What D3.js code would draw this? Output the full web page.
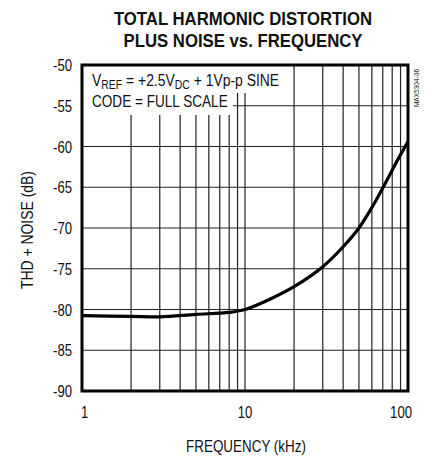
<!DOCTYPE html>
<html>
<head>
<meta charset="utf-8">
<script src="https://cdn.jsdelivr.net/npm/d3@7"></script>
<style>
  body { margin: 0; background: #fff; }
  text { font-family: "Liberation Sans", Arial, sans-serif; fill: #111; }
</style>
</head>
<body>
<div id="chart"></div>
<script>
// frequency (kHz) and THD+N (dB)
var freq = [1, 2, 3, 5, 8, 10, 14, 20, 30, 40, 50, 60, 70, 80, 90, 100];
var thd  = [-80.76, -80.85, -80.9, -80.6, -80.35, -80.0, -78.8, -77.2, -74.75, -72.3, -70.0, -67.5, -65.1, -62.9, -61.0, -59.4];

var yTicks = [-50, -55, -60, -65, -70, -75, -80, -85, -90];
var xTicks = [1, 10, 100];
var xGrid = [2, 3, 4, 5, 6, 7, 8, 9, 10, 20, 30, 40, 50, 60, 70, 80, 90];

var W = 433, H = 461;
var margin = {left: 82, right: 25, top: 65, bottom: 70};
var NARROW = 0.82; // squeeze to look like a narrow face

var svg = d3.select("#chart").append("svg")
    .attr("width", W)
    .attr("height", H);

var x = d3.scaleLog().domain([1, 100]).range([margin.left, W - margin.right]);
var y = d3.scaleLinear().domain([-90, -50]).range([H - margin.bottom, margin.top]);

function label(px, py, str, size, anchor, rot, sx) {
    var g = svg.append("g")
        .attr("transform", "translate(" + px + "," + py + ")" + (rot ? " rotate(" + rot + ")" : "") + " scale(" + (sx || NARROW) + ",1)");
    return g.append("text")
        .attr("text-anchor", anchor || "start")
        .style("font-size", size + "px")
        .text(str);
}

// title
label(243, 25, "TOTAL HARMONIC DISTORTION", 18, "middle", 0, 0.93).style("font-weight", "bold");
label(243, 47, "PLUS NOISE vs. FREQUENCY", 18, "middle", 0, 0.93).style("font-weight", "bold");

// grid
svg.append("g").selectAll("line").data(xGrid).enter().append("line")
    .attr("x1", function(d){ return x(d); })
    .attr("x2", function(d){ return x(d); })
    .attr("y1", y(-50)).attr("y2", y(-90))
    .attr("stroke", "#222").attr("stroke-width", 1.2);
svg.append("g").selectAll("line").data(yTicks.slice(1, -1)).enter().append("line")
    .attr("x1", x(1)).attr("x2", x(100))
    .attr("y1", function(d){ return y(d); })
    .attr("y2", function(d){ return y(d); })
    .attr("stroke", "#222").attr("stroke-width", 1.2);

// white box behind the note
svg.append("rect").attr("x", x(1) + 1).attr("y", y(-50)).attr("width", 210).attr("height", 28).attr("fill", "#fff");
svg.append("rect").attr("x", x(1) + 1).attr("y", y(-50)).attr("width", 150).attr("height", 50).attr("fill", "#fff");

var note = label(92, 86, "", 16, "start", 0, 0.87);
note.append("tspan").text("V");
note.append("tspan").attr("dy", 3).style("font-size", "12px").text("REF");
note.append("tspan").attr("dy", -3).text(" = +2.5V");
note.append("tspan").attr("dy", 3).style("font-size", "12px").text("DC");
note.append("tspan").attr("dy", -3).text(" + 1Vp-p SINE");
label(92, 107, "CODE = FULL SCALE", 16, "start", 0, 0.85);

// curve
var line = d3.line()
    .x(function(d, i){ return x(freq[i]); })
    .y(function(d){ return y(d); })
    .curve(d3.curveCatmullRom.alpha(0.5));
svg.append("path")
    .datum(thd)
    .attr("d", line)
    .attr("fill", "none")
    .attr("stroke", "#000")
    .attr("stroke-width", 3.2);

// frame
svg.append("rect")
    .attr("x", x(1)).attr("y", y(-50))
    .attr("width", x(100) - x(1)).attr("height", y(-90) - y(-50))
    .attr("fill", "none").attr("stroke", "#000").attr("stroke-width", 3);

// tick labels
yTicks.forEach(function(d){ label(72, y(d) + 6, d, 16, "end"); });
xTicks.forEach(function(d){
    var a = d == 1 ? "start" : (d == 100 ? "end" : "middle");
    var off = d == 1 ? -1 : (d == 100 ? 4 : 0);
    label(x(d) + off, 418, d, 16, a);
});

label(246, 452, "FREQUENCY (kHz)", 16, "middle", 0, 0.84);
label(33, (y(-50) + y(-90)) / 2 + 2, "THD + NOISE (dB)", 16, "middle", -90, 0.87);
label(419, 88, "MAX5304-06", 8, "middle", -90);
</script>
</body>
</html>
